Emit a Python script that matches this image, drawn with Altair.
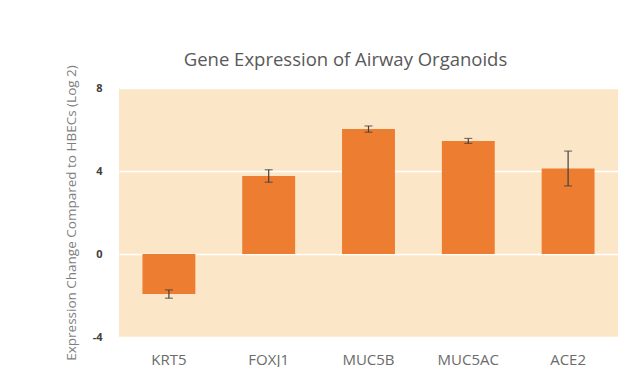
import altair as alt
import pandas as pd

genes = ["KRT5", "FOXJ1", "MUC5B", "MUC5AC", "ACE2"]
values = [-1.93, 3.76, 6.02, 5.45, 4.12]
errors = [0.2, 0.3, 0.15, 0.12, 0.84]

df = pd.DataFrame({"gene": genes, "value": values, "err": errors})
df["lo"] = df["value"] - df["err"]
df["hi"] = df["value"] + df["err"]

x = alt.X("gene:N", sort=genes, title=None,
          scale=alt.Scale(paddingInner=0.47, paddingOuter=0.235),
          axis=alt.Axis(labelAngle=0, labelFontSize=15, labelColor="#6b6b6b",
                        labelFont="Open Sans", labelPadding=15, domain=False, ticks=False,
                        grid=False))
y_axis = alt.Axis(values=[-4, 0, 4, 8], labelExpr="datum.value",
                  labelFontSize=11, labelFontWeight="bold",
                  labelColor="#404040", labelFont="Open Sans", labelPadding=17,
                  domain=False, ticks=False, grid=True, gridColor="#ffffff", gridWidth=1.5,
                  title="Expression Change Compared to HBECs (Log 2)",
                  titleFontSize=13.5, titleFontWeight="normal", titleColor="#7f7f7f",
                  titleFont="Open Sans", titlePadding=14)

bars = alt.Chart(df).mark_bar(color="#ED7D31").encode(
    x=x,
    y=alt.Y("value:Q", scale=alt.Scale(domain=[-4, 8], nice=False), axis=y_axis),
)
rules = alt.Chart(df).mark_rule(color="#404040", strokeWidth=1.2).encode(
    x=alt.X("gene:N", sort=genes), y="lo:Q", y2="hi:Q"
)
cap_lo = alt.Chart(df).mark_tick(color="#404040", size=8, thickness=1.2, orient="horizontal").encode(
    x=alt.X("gene:N", sort=genes), y="lo:Q"
)
cap_hi = alt.Chart(df).mark_tick(color="#404040", size=8, thickness=1.2, orient="horizontal").encode(
    x=alt.X("gene:N", sort=genes), y="hi:Q"
)

chart = alt.layer(bars, rules, cap_lo, cap_hi).properties(
    width=499, height=249,
    autosize=alt.AutoSizeParams(type="none"),
    padding={"left": 111, "top": 80, "right": 8, "bottom": 30},
    background="#ffffff",
    title=alt.TitleParams("Gene Expression of Airway Organoids", fontSize=18.5,
                          font="Open Sans", fontWeight="normal", color="#595959",
                          offset=-5, dx=-23, anchor="middle"),
).configure_view(fill="#FCE6C8", stroke=None)

chart.save("out.html", embed_options={"renderer": "svg", "actions": False})
